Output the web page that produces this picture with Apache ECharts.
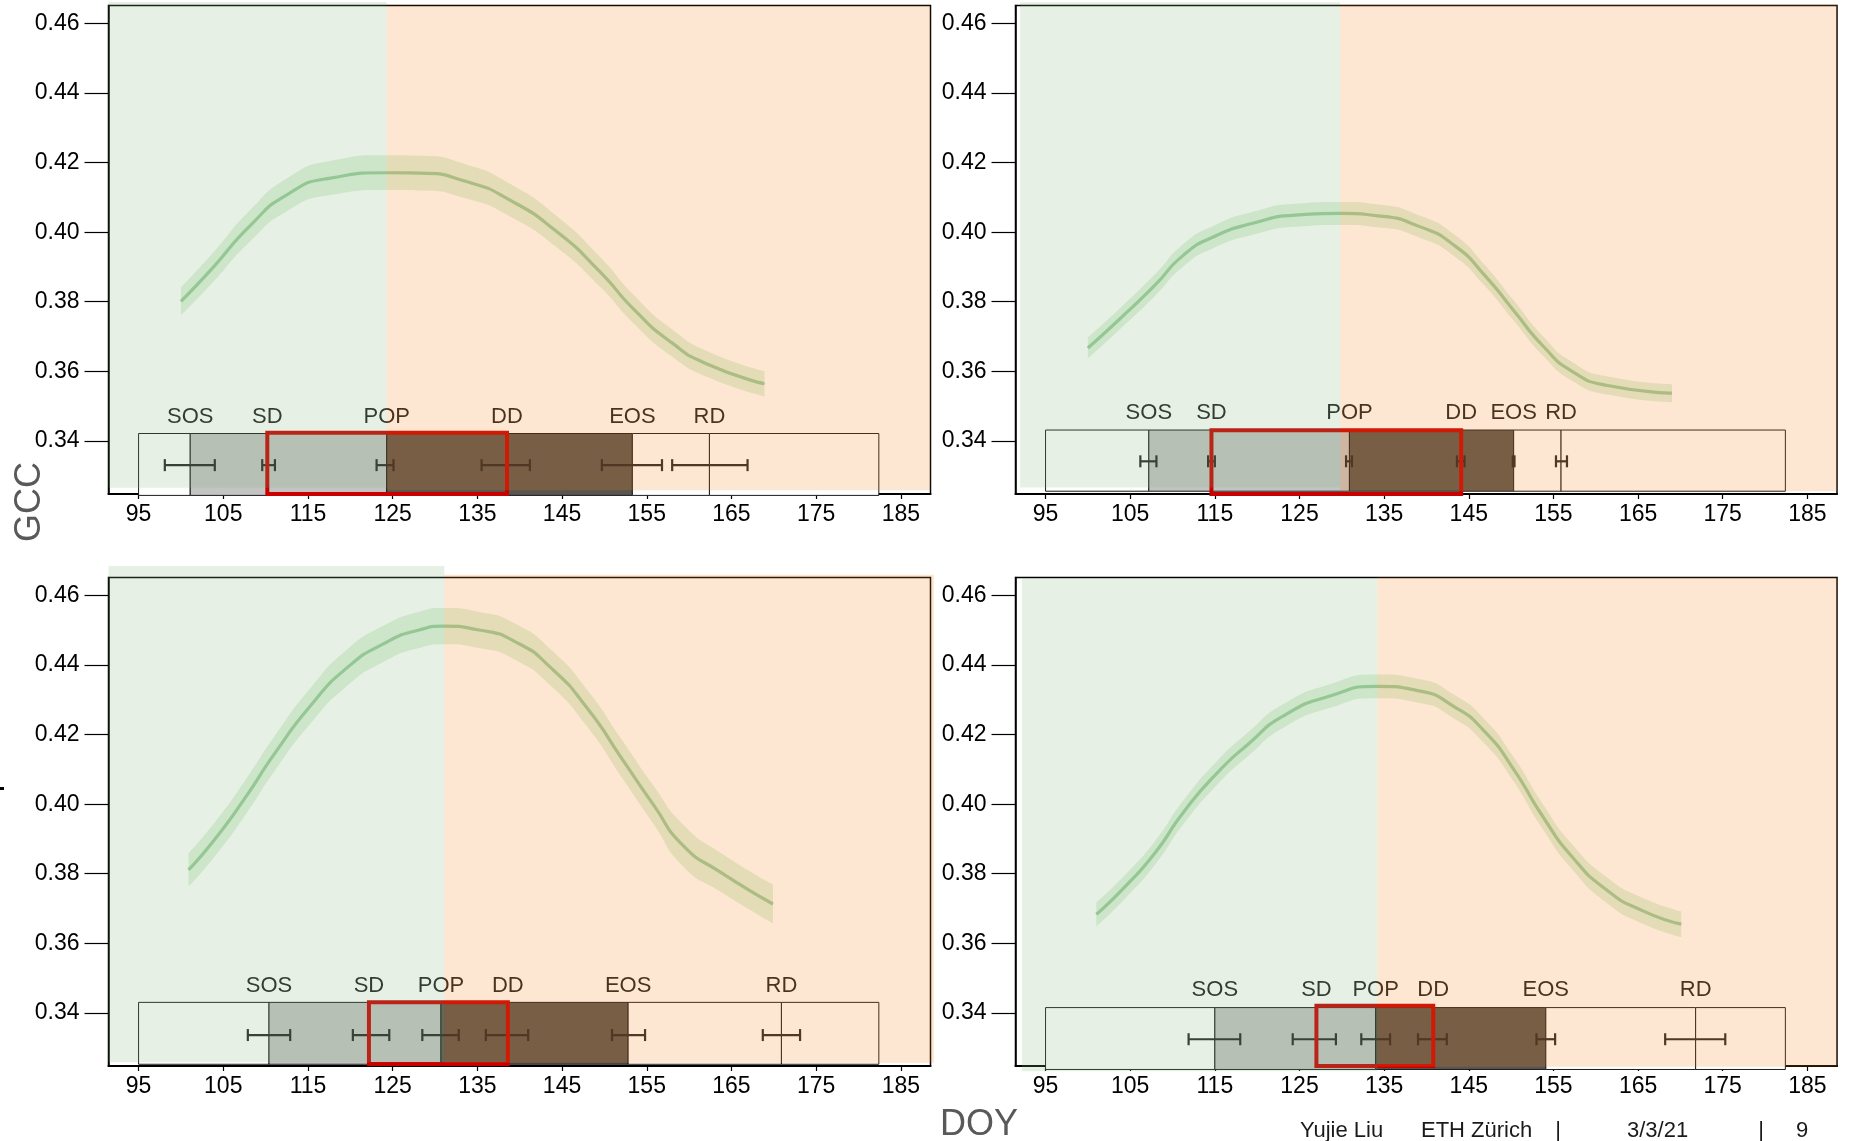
<!DOCTYPE html>
<html>
<head>
<meta charset="utf-8">
<script src="https://cdn.jsdelivr.net/npm/echarts@6/dist/echarts.min.js"></script>
<style>
  html, body { margin: 0; padding: 0; background: #fff; }
  #chart { width: 1853px; height: 1141px; }
</style>
</head>
<body>
<div id="chart"></div>
<script>
// ---- Axis ticks and phase names ----
const X_TICKS = [95, 105, 115, 125, 135, 145, 155, 165, 175, 185];
const Y_TICKS = [0.34, 0.36, 0.38, 0.40, 0.42, 0.44, 0.46];
const PHASES = ['SOS', 'SD', 'POP', 'DD', 'EOS', 'RD'];

// ---- Fitted GCC curves: day of year, GCC, half-width of the confidence band ----
const DOY_A = [100.0, 103.4, 108.3, 112.6, 117.5, 124.2, 128.1, 133.8, 138.8, 144.4, 149.4, 153.6, 157.9, 162.1, 168.9];
const GCC_A = [0.3801, 0.3888, 0.4022, 0.4109, 0.4155, 0.4171, 0.4170, 0.4145, 0.4093, 0.4001, 0.3888, 0.3775, 0.3683, 0.3621, 0.3564];
const CI_A  = [0.0040, 0.0042, 0.0045, 0.0047, 0.0049, 0.0050, 0.0050, 0.0049, 0.0047, 0.0045, 0.0043, 0.0041, 0.0039, 0.0037, 0.0036];

const DOY_B = [100.0, 103.7, 107.9, 111.3, 114.8, 119.7, 124.5, 129.9, 134.3, 139.2, 143.4, 146.8, 150.3, 153.8, 157.2, 161.4, 169.0];
const GCC_B = [0.3667, 0.3749, 0.3847, 0.3934, 0.3986, 0.4027, 0.4049, 0.4054, 0.4047, 0.4016, 0.3960, 0.3878, 0.3775, 0.3672, 0.3600, 0.3559, 0.3537];
const CI_B  = [0.0030, 0.0030, 0.0031, 0.0032, 0.0032, 0.0033, 0.0033, 0.0033, 0.0033, 0.0032, 0.0031, 0.0030, 0.0029, 0.0028, 0.0027, 0.0026, 0.0026];

const DOY_C = [100.9, 104.1, 107.6, 111.1, 115.4, 119.6, 123.9, 128.1, 131.0, 135.2, 139.5, 143.7, 148.0, 152.2, 155.8, 159.3, 163.6, 169.9];
const GCC_C = [0.3811, 0.3902, 0.4019, 0.4147, 0.4286, 0.4392, 0.4461, 0.4501, 0.4512, 0.4501, 0.4467, 0.4392, 0.4275, 0.4126, 0.3998, 0.3881, 0.3806, 0.3713];
const CI_C  = [0.0048, 0.0049, 0.0050, 0.0050, 0.0051, 0.0052, 0.0052, 0.0052, 0.0052, 0.0052, 0.0052, 0.0052, 0.0053, 0.0054, 0.0055, 0.0060, 0.0056, 0.0056];

const DOY_D = [101.0, 104.4, 107.9, 111.3, 115.2, 119.0, 123.1, 128.7, 134.2, 139.1, 143.3, 146.8, 150.2, 153.7, 157.2, 161.3, 165.5, 170.1];
const GCC_D = [0.3683, 0.3763, 0.3859, 0.3977, 0.4088, 0.4174, 0.4254, 0.4312, 0.4339, 0.4326, 0.4280, 0.4211, 0.4104, 0.3966, 0.3849, 0.3753, 0.3694, 0.3655];
const CI_D  = [0.0034, 0.0034, 0.0034, 0.0034, 0.0034, 0.0034, 0.0034, 0.0034, 0.0034, 0.0034, 0.0034, 0.0035, 0.0035, 0.0036, 0.0036, 0.0037, 0.0037, 0.0037];

// ---- Phenophase dates (SOS, SD, POP, DD, EOS, RD) with uncertainty range ----
const PHASE_A    = [101.1, 110.2, 124.3, 138.5, 153.3, 162.4];
const PHASE_LO_A = [98.1, 109.6, 123.1, 135.5, 149.7, 158.0];
const PHASE_HI_A = [104.0, 111.1, 125.1, 141.2, 156.8, 166.9];

const PHASE_B    = [107.2, 114.6, 130.9, 144.1, 150.3, 155.9];
const PHASE_LO_B = [106.2, 114.2, 130.5, 143.6, 150.2, 155.3];
const PHASE_HI_B = [108.1, 115.0, 131.2, 144.5, 150.4, 156.6];

const PHASE_C    = [110.4, 122.2, 130.7, 138.6, 152.8, 170.9];
const PHASE_LO_C = [107.9, 120.3, 128.5, 136.0, 150.9, 168.7];
const PHASE_HI_C = [112.9, 124.6, 132.8, 141.0, 154.8, 173.1];

const PHASE_D    = [115.0, 127.0, 134.0, 140.8, 154.1, 171.8];
const PHASE_LO_D = [111.9, 124.2, 132.3, 139.0, 153.0, 168.2];
const PHASE_HI_D = [118.0, 129.3, 135.7, 142.4, 155.2, 175.3];

// Season window covered by the phase strip
const SEASON = [95, 182.4];
// Day of the curve maximum: greening before, browning after
const PEAK_DOY = [124.3, 129.8, 131.1, 134.2];

// ---- Layout and styles ----
const FONT = '"Liberation Sans", Arial, sans-serif';
const GRIDS = [
  { left: 108.5,  top: 5.5,   width: 822,   height: 488.5 },
  { left: 1015.5, top: 5.5,   width: 821.5, height: 488.5 },
  { left: 108.5,  top: 577.5, width: 822,   height: 488.5 },
  { left: 1015.5, top: 577.5, width: 821.5, height: 488.5 }
];
const X_RANGE = [91.45, 188.5];
const Y_RANGE = [0.3247, 0.4652];
// strip geometry in GCC units, shading extents per panel
const STRIP = [
  { box: [0.3243, 0.3421], red: [0.3247, 0.3423], bar: 0.3330, label: 0.3469, green: [91.45, 0.3265, 0.4662], peach: [188.5, 0.3258, 0.4652] },
  { box: [0.3255, 0.3431], red: [0.3247, 0.3430], bar: 0.3341, label: 0.3479, green: [92.0, 0.3266, 0.4661], peach: [188.5, 0.3255, 0.4655] },
  { box: [0.3252, 0.3430], red: [0.3253, 0.3430], bar: 0.3336, label: 0.3478, green: [91.45, 0.3258, 0.4685], peach: [188.9, 0.3256, 0.4660] },
  { box: [0.3237, 0.3415], red: [0.3247, 0.3420], bar: 0.3324, label: 0.3465, green: [92.2, 0.3232, 0.4650], peach: [188.5, 0.3245, 0.4652] }
];
const BOX_FILL = ['#ffffff', '#c4c4c4', '#59554f'];
const SHADE_FILL = ['rgba(130,180,120,0.2)', 'rgba(245,130,30,0.2)'];
const TICK_FONT = 23;

const panels = [
  { doy: DOY_A, gcc: GCC_A, ci: CI_A, ph: PHASE_A, lo: PHASE_LO_A, hi: PHASE_HI_A },
  { doy: DOY_B, gcc: GCC_B, ci: CI_B, ph: PHASE_B, lo: PHASE_LO_B, hi: PHASE_HI_B },
  { doy: DOY_C, gcc: GCC_C, ci: CI_C, ph: PHASE_C, lo: PHASE_LO_C, hi: PHASE_HI_C },
  { doy: DOY_D, gcc: GCC_D, ci: CI_D, ph: PHASE_D, lo: PHASE_LO_D, hi: PHASE_HI_D }
];

const grid = [], xAxis = [], yAxis = [], series = [];
const SMOOTH = 0.6;

panels.forEach((p, i) => {
  const L = STRIP[i];
  grid.push(Object.assign({ show: true, borderColor: '#000', borderWidth: 1.5, backgroundColor: 'transparent' }, GRIDS[i]));
  xAxis.push({
    type: 'value', gridIndex: i, min: X_RANGE[0], max: X_RANGE[1],
    splitLine: { show: false },
    axisLine: { show: true, onZero: false, lineStyle: { color: '#000', width: 2 } },
    axisTick: { show: true, customValues: X_TICKS, length: 5, lineStyle: { color: '#000', width: 1.2 } },
    axisLabel: { customValues: X_TICKS, margin: 9, fontSize: TICK_FONT, color: '#000', fontFamily: FONT }
  });
  yAxis.push({
    type: 'value', gridIndex: i, min: Y_RANGE[0], max: Y_RANGE[1],
    splitLine: { show: false },
    axisLine: { show: true, onZero: false, lineStyle: { color: '#000', width: 1.5 } },
    axisTick: { show: true, customValues: Y_TICKS, length: 24, lineStyle: { color: '#000', width: 1.2 } },
    axisLabel: { customValues: Y_TICKS, margin: 29, fontSize: TICK_FONT, color: '#000', fontFamily: FONT,
                 formatter: v => v.toFixed(2) }
  });

  const common = { xAxisIndex: i, yAxisIndex: i, silent: true, animation: false };

  // confidence band: lower edge, then the band width stacked on it
  // (GCC is the first column so that it is the stacked dimension)
  series.push(Object.assign({
    type: 'line', stack: 'band' + i, symbol: 'none', smooth: SMOOTH, z: 2,
    encode: { x: 1, y: 0 },
    lineStyle: { opacity: 0 },
    data: p.doy.map((d, k) => [p.gcc[k] - p.ci[k], d])
  }, common));
  series.push(Object.assign({
    type: 'line', stack: 'band' + i, symbol: 'none', smooth: SMOOTH, z: 2,
    encode: { x: 1, y: 0 },
    lineStyle: { opacity: 0 },
    areaStyle: { color: '#e0f2de', opacity: 1 },
    data: p.doy.map((d, k) => [2 * p.ci[k], d])
  }, common));
  // fitted curve
  series.push(Object.assign({
    type: 'line', symbol: 'none', smooth: SMOOTH, z: 3,
    lineStyle: { color: '#99cc9c', width: 3.2 },
    data: p.doy.map((d, k) => [d, p.gcc[k]])
  }, common));

  // phase strip boxes
  const segs = [
    [SEASON[0], p.ph[0], 0],
    [p.ph[0], p.ph[2], 1],
    [p.ph[2], p.ph[4], 2],
    [p.ph[4], p.ph[5], 0],
    [p.ph[5], SEASON[1], 0]
  ];
  series.push(Object.assign({
    type: 'custom', z: 3,
    encode: { x: [0, 1], y: [2, 3] },
    data: segs.map(s => [s[0], s[1], L.box[0], L.box[1], s[2]]),
    renderItem: (params, api) => {
      const a = api.coord([api.value(0), api.value(3)]);
      const b = api.coord([api.value(1), api.value(2)]);
      return {
        type: 'rect',
        shape: { x: a[0], y: a[1], width: b[0] - a[0], height: b[1] - a[1] },
        style: { fill: BOX_FILL[api.value(4)], stroke: '#1a1a1a', lineWidth: 1 }
      };
    }
  }, common));

  // uncertainty bars
  series.push(Object.assign({
    type: 'custom', z: 4,
    encode: { x: [0, 1], y: 2 },
    data: p.lo.map((lo, k) => [lo, p.hi[k], L.bar]),
    renderItem: (params, api) => {
      const a = api.coord([api.value(0), api.value(2)]);
      const b = api.coord([api.value(1), api.value(2)]);
      const st = { stroke: '#262626', lineWidth: 2.2 };
      return {
        type: 'group',
        children: [
          { type: 'line', shape: { x1: a[0], y1: a[1], x2: b[0], y2: b[1] }, style: st },
          { type: 'line', shape: { x1: a[0], y1: a[1] - 6, x2: a[0], y2: a[1] + 6 }, style: st },
          { type: 'line', shape: { x1: b[0], y1: b[1] - 6, x2: b[0], y2: b[1] + 6 }, style: st }
        ]
      };
    }
  }, common));

  // SD-DD window
  series.push(Object.assign({
    type: 'custom', z: 5,
    encode: { x: [0, 1], y: [2, 3] },
    data: [[p.ph[1], p.ph[3], L.red[0], L.red[1]]],
    renderItem: (params, api) => {
      const a = api.coord([api.value(0), api.value(3)]);
      const b = api.coord([api.value(1), api.value(2)]);
      return {
        type: 'rect',
        shape: { x: a[0], y: a[1], width: b[0] - a[0], height: b[1] - a[1] },
        style: { fill: 'none', stroke: '#c80000', lineWidth: 4 }
      };
    }
  }, common));

  // phase names
  series.push(Object.assign({
    type: 'custom', z: 5,
    encode: { x: 0, y: 1 },
    data: p.ph.map(d => [d, L.label]),
    renderItem: (params, api) => {
      const c = api.coord([api.value(0), api.value(1)]);
      return {
        type: 'text', x: c[0], y: c[1],
        style: { text: PHASES[params.dataIndex], font: '22px ' + FONT, fill: '#1e1e1e',
                 align: 'center', verticalAlign: 'middle' }
      };
    }
  }, common));

  // greening / browning shading laid over the panel
  series.push(Object.assign({
    type: 'custom', z: 10,
    encode: { x: [0, 1], y: [2, 3] },
    data: [
      [L.green[0], PEAK_DOY[i], L.green[1], L.green[2], 0],
      [PEAK_DOY[i], L.peach[0], L.peach[1], L.peach[2], 1]
    ],
    renderItem: (params, api) => {
      const a = api.coord([api.value(0), api.value(3)]);
      const b = api.coord([api.value(1), api.value(2)]);
      return {
        type: 'rect',
        shape: { x: a[0], y: a[1], width: b[0] - a[0], height: b[1] - a[1] },
        style: { fill: SHADE_FILL[api.value(4)] }
      };
    }
  }, common));
});

const chart = echarts.init(document.getElementById('chart'), null, { renderer: 'canvas' });
chart.setOption({
  animation: false,
  backgroundColor: '#ffffff',
  grid: grid.map(g => Object.assign({ outerBoundsMode: 'none', containLabel: false }, g)),
  xAxis, yAxis, series,
  graphic: [
    { type: 'text', x: 30, y: 502, rotation: Math.PI / 2,
      style: { text: 'GCC', font: '36px ' + FONT, fill: '#595959', align: 'center', verticalAlign: 'middle' } },
    { type: 'text', x: 940, y: 1125,
      style: { text: 'DOY', font: '36px ' + FONT, fill: '#595959', align: 'left', verticalAlign: 'middle' } },
    { type: 'text', x: 1300, y: 1131, style: { text: 'Yujie Liu', font: '22px ' + FONT, fill: '#1a1a1a', verticalAlign: 'middle' } },
    { type: 'text', x: 1421, y: 1131, style: { text: 'ETH Zürich', font: '22px ' + FONT, fill: '#1a1a1a', verticalAlign: 'middle' } },
    { type: 'text', x: 1558, y: 1131, style: { text: '|', font: '22px ' + FONT, fill: '#1a1a1a', align: 'center', verticalAlign: 'middle' } },
    { type: 'text', x: 1627, y: 1131, style: { text: '3/3/21', font: '22px ' + FONT, fill: '#1a1a1a', verticalAlign: 'middle' } },
    { type: 'text', x: 1761, y: 1131, style: { text: '|', font: '22px ' + FONT, fill: '#1a1a1a', align: 'center', verticalAlign: 'middle' } },
    { type: 'text', x: 1796, y: 1131, style: { text: '9', font: '22px ' + FONT, fill: '#1a1a1a', verticalAlign: 'middle' } },
    { type: 'rect', shape: { x: 0, y: 787, width: 4, height: 3 }, style: { fill: '#000' } }
  ]
});
</script>
</body>
</html>
